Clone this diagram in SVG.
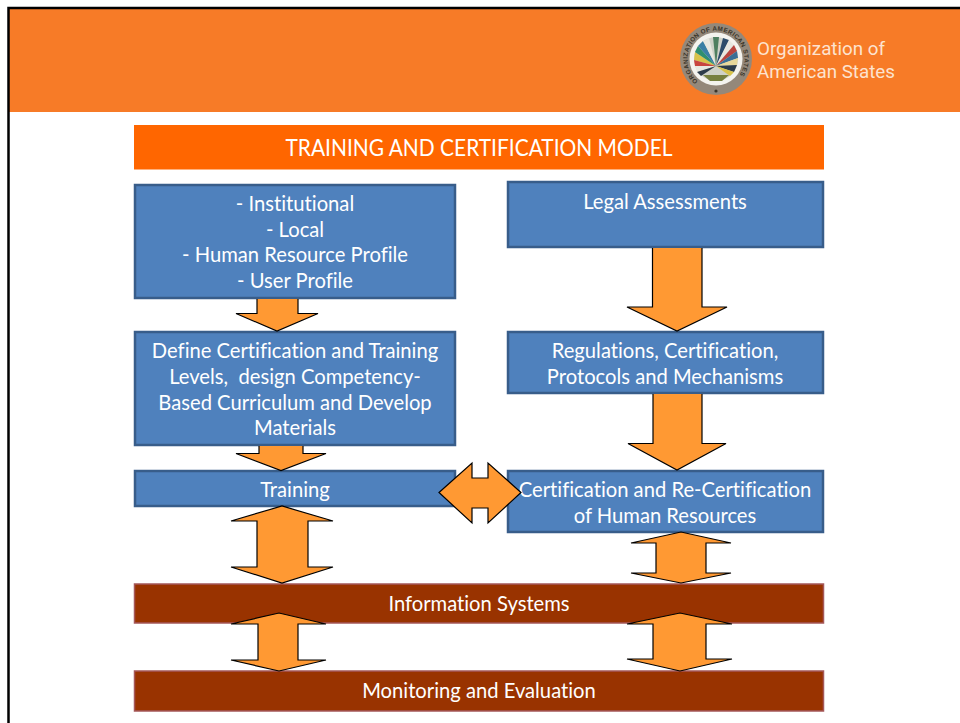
<svg xmlns="http://www.w3.org/2000/svg" width="960" height="723" viewBox="0 0 960 723">
<style>
.blue{fill:#4f81bd;stroke:#385d8a;stroke-width:2.5}
.brown{fill:#993300;stroke:#a5585a;stroke-width:1.5}
.arr{fill:#ff9933;stroke:#000;stroke-width:1.2;stroke-linejoin:miter}
text{font-family:"Lato","Liberation Sans",sans-serif;fill:#fff;text-anchor:middle;font-size:20.2px;font-variant-ligatures:none}
.hd{font-size:23.5px}
.lg{font-size:18.8px;text-anchor:start;fill:#fde3cf;font-family:"Roboto","Liberation Sans",sans-serif}
.seal{font-size:6.3px;font-weight:700;font-family:"Liberation Sans",sans-serif;fill:#3a3428;text-anchor:start;letter-spacing:.35px}
</style>
<defs>
<path id="ring" d="M 698 81 A 28.400 28.400 0 1 1 734 81"/>
</defs>
<rect width="960" height="723" fill="#fff"/>
<g id="frame">
<rect x="9" y="9" width="951" height="103" fill="#f77b27"/>
<path d="M8.500 723V8H960" fill="none" stroke="#000" stroke-width="2.500"/>
</g>
<g id="logo">
<circle cx="716" cy="59" r="36" fill="#94887a"/>
<circle cx="716" cy="59" r="26.500" fill="#f4f3ee"/>
<circle cx="716" cy="59" r="22" fill="#cfd2c8"/>
<path d="M716 66L694 60L695 52Z" fill="#d8c34a"/>
<path d="M716 66L695 52L698 46Z" fill="#2f8f6f"/>
<path d="M716 66L698 46L703 41Z" fill="#3a7fa5"/>
<path d="M716 66L703 41L709 38Z" fill="#e8e8e0"/>
<path d="M716 66L713 37L719 37Z" fill="#4f7f60"/>
<path d="M716 66L723 38L729 40Z" fill="#2d4c6a"/>
<path d="M716 66L729 40L734 45Z" fill="#e8e8e0"/>
<path d="M716 66L734 45L737 51Z" fill="#b9453f"/>
<path d="M716 66L737 51L738 58Z" fill="#3a6f95"/>
<path d="M716 66L738 58L737 65Z" fill="#e8d89a"/>
<path d="M716 66L737 65L734 72Z" fill="#2d3c4a"/>
<path d="M716 66L694 60L695 66Z" fill="#c9453f"/>
<path d="M716 66L695 66L697 72Z" fill="#e8e8e0"/>
<path d="M716 66L697 72L701 76Z" fill="#2d3c4a"/>
<path d="M716 66L734 72L730 76Z" fill="#d8c34a"/>
<path d="M703 75H729L722 81H710Z" fill="#77803f"/>
<text><textPath class="seal" href="#ring">ORGANIZATION OF AMERICAN STATES</textPath></text>
<circle cx="716" cy="91" r="1.600" fill="#3a3428"/>
</g>
<text class="lg" x="757" y="55">Organization of</text>
<text class="lg" x="757" y="78">American States</text>

<g id="title"><rect x="134" y="125" width="690" height="44.500" fill="#ff6600"/>
<text class="hd" x="479" y="156" textLength="387" lengthAdjust="spacingAndGlyphs">TRAINING AND CERTIFICATION MODEL</text></g>

<g id="node-profile"><rect class="blue" x="135" y="185" width="320" height="113"/>
<text x="295" y="211">- Institutional</text><text x="295" y="237">- Local</text><text x="295" y="262">- Human Resource Profile</text><text x="295" y="288">- User Profile</text></g>

<g id="node-legal"><rect class="blue" x="508" y="182" width="315" height="65"/>
<text x="665" y="209">Legal Assessments</text></g>

<g id="node-define"><rect class="blue" x="135" y="332" width="320" height="113"/>
<text x="295" y="358">Define Certification and Training</text><text x="295" y="384" xml:space="preserve">Levels,  design Competency-</text><text x="295" y="410">Based Curriculum and Develop</text><text x="295" y="435">Materials</text></g>

<g id="node-regulations"><rect class="blue" x="508" y="332" width="315" height="61"/>
<text x="665" y="358">Regulations, Certification,</text><text x="665" y="384">Protocols and Mechanisms</text></g>

<g id="node-training"><rect class="blue" x="135" y="471" width="320" height="35"/>
<text x="295" y="497">Training</text></g>

<g id="node-certification"><rect class="blue" x="508" y="471" width="315" height="61"/>
<text x="665" y="497">Certification and Re-Certification</text><text x="665" y="523">of Human Resources</text></g>

<g id="node-info"><rect class="brown" x="134.500" y="584" width="689" height="39"/>
<text x="479" y="611">Information Systems</text></g>

<g id="node-monitoring"><rect class="brown" x="134.500" y="671" width="689" height="40"/>
<text x="479" y="698">Monitoring and Evaluation</text></g>

<g id="connectors">
<path class="arr" d="M257 299V313.500H236L277 331L318 313.500H298V299"/>
<path class="arr" d="M259 446V453.500H236L281 470.500L326 453.500H303V446"/>
<path class="arr" d="M652.500 248V307H627L677 331L727 307H702V248"/>
<path class="arr" d="M653 394V443.500H628L677 470L726 443.500H702V394"/>
<path class="arr" d="M257 521H231L282 506L333 521H308V567H333L282 583L231 567H257Z"/>
<path class="arr" d="M439 492.500L472 463V478H488V463L521 492.500L488 523V508H472V523Z"/>
<path class="arr" d="M656 543H631L681 532L731 543H706V573H731L681 583L631 573H656Z"/>
<path class="arr" d="M258 624H231L279 613L326 624H298V660H326L279 671L231 660H258Z"/>
<path class="arr" d="M653 624H627L680 613L732 624H706V659H732L680 671L627 659H653Z"/>
</g>
</svg>
